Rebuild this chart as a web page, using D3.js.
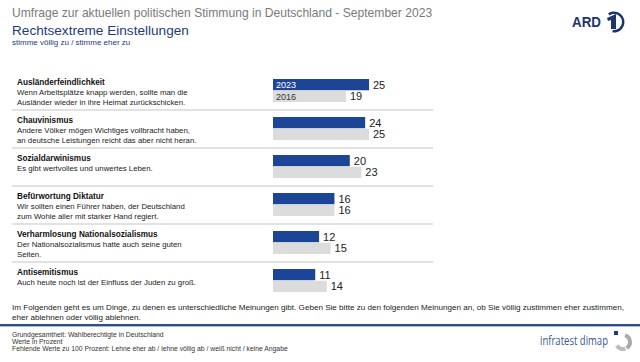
<!DOCTYPE html>
<html lang="de">
  <head>
    <meta charset="utf-8">
    <title>Rechtsextreme Einstellungen</title>
    <style type="text/css">
body { margin: 0; background: #fff; }
svg { display: block; font-family: "Liberation Sans", Arial, sans-serif; }
    </style>
  </head>
  <body>
    <div id="chart"></div>
    <script src="https://cdn.jsdelivr.net/npm/d3@7"></script>
    <script>
      // data
      var categories = ["Ausländerfeindlichkeit", "Chauvinismus", "Sozialdarwinismus",
                        "Befürwortung Diktatur", "Verharmlosung Nationalsozialismus", "Antisemitismus"];
      var statements = [
        ["Wenn Arbeitsplätze knapp werden, sollte man die", "Ausländer wieder in ihre Heimat zurückschicken."],
        ["Andere Völker mögen Wichtiges vollbracht haben,", "an deutsche Leistungen reicht das aber nicht heran."],
        ["Es gibt wertvolles und unwertes Leben."],
        ["Wir sollten einen Führer haben, der Deutschland", "zum Wohle aller mit starker Hand regiert."],
        ["Der Nationalsozialismus hatte auch seine guten", "Seiten."],
        ["Auch heute noch ist der Einfluss der Juden zu groß."]
      ];
      var years = ["2023", "2016"];
      var values2023 = [25, 24, 20, 16, 12, 11];
      var values2016 = [19, 25, 23, 16, 15, 14];

      var W = 640, H = 362;
      var blue = "#1c4597", grey = "#dcdcdc";

      var svg = d3.select("#chart").append("svg")
          .attr("width", W).attr("height", H);

      // header
      svg.append("text").attr("x", 12).attr("y", 17)
          .attr("font-size", 12.1).attr("fill", "#7a7a7a")
          .text("Umfrage zur aktuellen politischen Stimmung in Deutschland - September 2023");
      svg.append("text").attr("x", 12).attr("y", 35)
          .attr("font-size", 13.6).attr("fill", "#1d3c78")
          .text("Rechtsextreme Einstellungen");
      svg.append("text").attr("x", 12).attr("y", 45)
          .attr("font-size", 8).attr("fill", "#1d3c78")
          .text("stimme völlig zu / stimme eher zu");

      // ARD logo
      var ard = svg.append("g").attr("transform", "translate(572,22)");
      ard.append("text").attr("x", 0).attr("y", 5)
          .attr("font-size", 14).attr("font-weight", "bold").attr("fill", "#1d3470")
          .attr("textLength", 29).attr("lengthAdjust", "spacingAndGlyphs")
          .text("ARD");
      ard.append("path")
          .attr("transform", "translate(42,0)")
          .attr("d", d3.arc()({innerRadius: 8, outerRadius: 10.5, startAngle: -0.6, endAngle: 3.3}))
          .attr("fill", "#1d3470");
      ard.append("path")
          .attr("d", "M35,-4 L44,-8 L44,7 L39,7 L39,-2 L36,-1 Z")
          .attr("fill", "#1d3470");

      // scales
      var y = d3.scaleBand().domain(categories).range([72, 300]);
      var x = d3.scaleLinear().domain([0, 25]).range([273, 369]);
      var sub = d3.scaleBand().domain(years).range([7, 30]).paddingInner(0.04);

      var rows = svg.selectAll(".row")
        .data(categories)
        .enter().append("g")
          .attr("class", "row")
          .attr("transform", function(d) { return "translate(0," + y(d) + ")"; });

      // separators
      rows.filter(function(d, i) { return i > 0; }).append("line")
          .attr("x1", 12).attr("x2", 433).attr("y1", 0).attr("y2", 0)
          .attr("stroke", "#e2e2e2").attr("stroke-width", 2);

      rows.append("text")
          .attr("x", 17).attr("y", 13)
          .attr("font-size", 8.2).attr("font-weight", "bold").attr("fill", "#111")
          .text(function(d) { return d; });

      rows.each(function(d, i) {
        d3.select(this).selectAll(".stmt")
          .data(statements[i])
          .enter().append("text")
            .attr("class", "stmt")
            .attr("x", 17).attr("y", function(s, j) { return 23 + j * 10; })
            .attr("font-size", 7.8).attr("fill", "#222")
            .text(function(s) { return s; });

        var vals = [values2023[i], values2016[i]];
        var g = d3.select(this);
        g.selectAll(".bar")
          .data(vals)
          .enter().append("rect")
            .attr("class", "bar")
            .attr("x", x(0))
            .attr("y", function(v, j) { return sub(years[j]); })
            .attr("width", function(v) { return x(v) - x(0); })
            .attr("height", sub.bandwidth())
            .attr("fill", function(v, j) { return j === 0 ? blue : grey; });
        g.selectAll(".val")
          .data(vals)
          .enter().append("text")
            .attr("class", "val")
            .attr("x", function(v) { return x(v) + 4; })
            .attr("y", function(v, j) { return sub(years[j]) + sub.bandwidth() / 2 + 4; })
            .attr("font-size", 11).attr("fill", "#222")
            .text(function(v) { return v; });
        if (i === 0) {
          g.selectAll(".yr")
            .data(years)
            .enter().append("text")
              .attr("class", "yr")
              .attr("x", x(0) + 3)
              .attr("y", function(yr) { return sub(yr) + sub.bandwidth() / 2 + 3.5; })
              .attr("font-size", 9).attr("fill", function(yr, j) { return j === 0 ? "#fff" : "#333"; })
              .text(function(yr) { return yr; });
        }
      });

      // question text
      var q = ["Im Folgenden geht es um Dinge, zu denen es unterschiedliche Meinungen gibt. Geben Sie bitte zu den folgenden Meinungen an, ob Sie völlig zustimmen eher zustimmen,",
               "eher ablehnen oder völlig ablehnen."];
      svg.selectAll(".q").data(q).enter().append("text")
          .attr("x", 12).attr("y", function(d, i) { return 310 + i * 10; })
          .attr("font-size", 8.1).attr("fill", "#222")
          .text(function(d) { return d; });

      svg.append("rect").attr("x", 0).attr("y", 324).attr("width", W).attr("height", 2)
          .attr("fill", "#2d4d8c");
      svg.append("rect").attr("x", 0).attr("y", 326).attr("width", W).attr("height", 1)
          .attr("fill", "#a9b8d4");

      var foot = ["Grundgesamtheit: Wahlberechtigte in Deutschland", "Werte in Prozent",
                  "Fehlende Werte zu 100 Prozent: Lehne eher ab / lehne völlig ab / weiß nicht / keine Angabe"];
      svg.selectAll(".foot").data(foot).enter().append("text")
          .attr("x", 12).attr("y", function(d, i) { return 337 + i * 7; })
          .attr("font-size", 6.8).attr("fill", "#333")
          .text(function(d) { return d; });

      // infratest dimap logo
      svg.append("text").attr("x", 540).attr("y", 345)
          .attr("font-size", 13).attr("fill", "#3a5a8c")
          .attr("font-family", "'Open Sans', sans-serif")
          .attr("textLength", 68).attr("lengthAdjust", "spacingAndGlyphs")
          .text("infratest dimap");
      var lg = svg.append("g").attr("transform", "translate(623,342)");
      lg.append("path").attr("d", d3.arc()({innerRadius: 5, outerRadius: 9, startAngle: 0.3, endAngle: 2.6})).attr("fill", "#aaa");
      lg.append("path").attr("d", d3.arc()({innerRadius: 5, outerRadius: 9, startAngle: 2.8, endAngle: 4.2})).attr("fill", "#bbb");
      lg.append("rect").attr("x", -9).attr("y", -11).attr("width", 4).attr("height", 4).attr("fill", "#1d3c78");
    </script>
  </body>
</html>
